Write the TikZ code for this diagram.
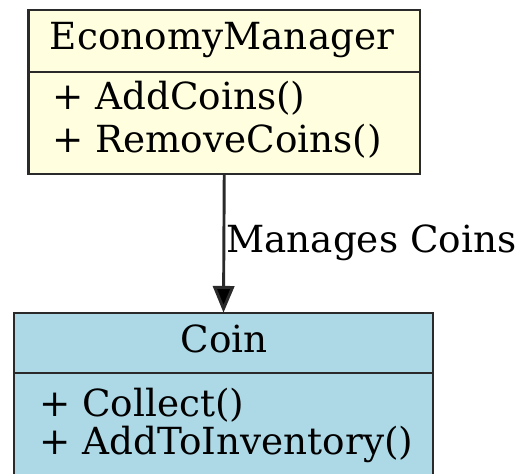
\documentclass[tikz,border=0pt]{standalone}
\usepackage{fontspec}
\setmainfont{DejaVu Serif}
\usetikzlibrary{arrows.meta}
\definecolor{emfill}{HTML}{FFFFE0}
\definecolor{coinfill}{HTML}{ADD8E6}
\definecolor{edge}{HTML}{2A2A2A}
\tikzset{
  classbox/.style={draw=edge, line width=1.6pt, inner sep=0pt, outer sep=0pt, rectangle},
  txt/.style={inner sep=0pt, anchor=base west, font=\fontsize{28}{32}\selectfont},
  ttl/.style={inner sep=0pt, anchor=base, font=\fontsize{28}{32}\selectfont},
}
\begin{document}
\begin{tikzpicture}[x=0.75pt,y=-0.75pt]
\useasboundingbox (0,0) rectangle (519,474);
% EconomyManager
\node[classbox, fill=emfill, minimum width=293.6pt, minimum height=123pt] (em) at (224.25,92) {};
\coordinate (emsepL) at (28.5,72);
\coordinate (emsepR) at (420,72);
\draw[edge, line width=1.6pt] (emsepL) -- (emsepR);
\node[ttl] (emt) at (222,50) {EconomyManager};
\node[txt] (em1) at (52,110) {+ AddCoins()};
\node[txt] (em2) at (52,153) {+ RemoveCoins()};
% Coin
\node[classbox, fill=coinfill, minimum width=314.25pt, minimum height=130pt] (coin) at (223.5,399.3) {};
\coordinate (cosepL) at (14,373);
\coordinate (cosepR) at (433,373);
\draw[edge, line width=1.6pt] (cosepL) -- (cosepR);
\node[ttl] (cot) at (224,353) {Coin};
\node[txt] (co1) at (39,417) {+ Collect()};
\node[txt] (co2) at (39,455) {+ AddToInventory()};
% edge
\draw[edge, line width=2.2pt, -{Triangle[length=20pt,width=16pt,fill=black]}] (em.south) -- (coin.north);
\node[txt] (lbl) at (226,253) {Manages Coins};
\end{tikzpicture}
\end{document}
